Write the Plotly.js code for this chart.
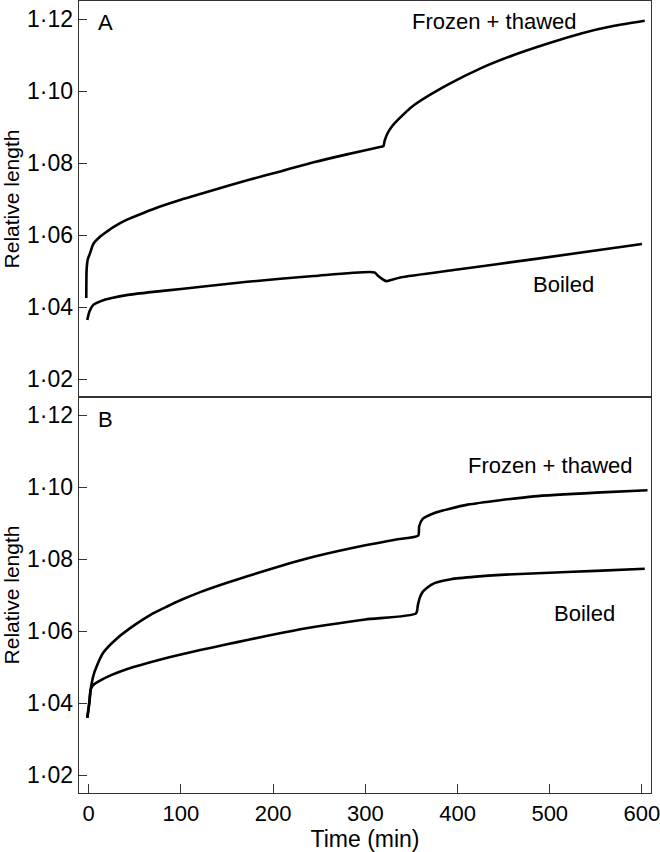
<!DOCTYPE html>
<html>
<head>
<meta charset="utf-8">
<script src="https://cdn.plot.ly/plotly-3.0.1.min.js"></script>
<style>html,body{margin:0;padding:0;background:#fff;}#chart{width:660px;height:852px;}</style>
</head>
<body>
<div id="chart"></div>
<script>
// Panel A
var timeA_frozen = [-2.6, -2.3, -1.5, -0.8, 1.4, 5, 12.3, 20, 26.7, 41, 60, 77.5, 100, 132, 172, 210, 244, 280, 317, 319.6, 321, 324, 329, 335, 353, 389, 425, 461, 498, 534, 570, 603];
var lenA_frozen  = [1.0425, 1.0500, 1.0525, 1.0534, 1.0549, 1.0575, 1.0595, 1.0610, 1.0622, 1.0642, 1.0662, 1.0679, 1.0698, 1.0722, 1.0752, 1.0778, 1.0802, 1.0824, 1.0845, 1.0847, 1.0862, 1.0882, 1.0902, 1.0919, 1.0961, 1.1017, 1.1063, 1.1100, 1.1132, 1.1160, 1.1181, 1.1195];
var timeA_boiled = [-1.5, 0.7, 5, 15.9, 25, 41, 70, 100, 172, 244, 310, 314, 320, 323, 338, 400, 483, 600];
var lenA_boiled  = [1.0364, 1.0387, 1.0406, 1.0419, 1.0425, 1.0433, 1.0442, 1.0450, 1.0470, 1.0486, 1.0496, 1.0486, 1.0475, 1.0472, 1.0482, 1.0504, 1.0533, 1.0575];
// Panel B
var timeB_frozen = [-1.5, 0.7, 2.2, 5, 8.7, 15.9, 30, 50, 67, 85, 100, 121, 150, 172, 210, 244, 300, 335, 357.3, 358.4, 362, 375, 411, 483, 556, 606];
var lenB_frozen  = [1.0359, 1.0401, 1.0438, 1.0475, 1.0502, 1.0540, 1.0578, 1.0617, 1.0645, 1.0668, 1.0686, 1.0708, 1.0734, 1.0752, 1.0782, 1.0806, 1.0838, 1.0855, 1.0865, 1.0891, 1.0911, 1.0928, 1.0951, 1.0974, 1.0985, 1.0991];
var timeB_boiled = [-1.5, 0.7, 2.2, 5, 12.3, 25, 48.5, 75, 100, 121, 150, 172, 210, 244, 300, 355, 357, 359, 362, 367, 375, 393, 420, 447, 500, 550, 603];
var lenB_boiled  = [1.0359, 1.0401, 1.0438, 1.0450, 1.0462, 1.0478, 1.0500, 1.0519, 1.0535, 1.0547, 1.0563, 1.0575, 1.0595, 1.0611, 1.0632, 1.0649, 1.0672, 1.0692, 1.0708, 1.0720, 1.0733, 1.0744, 1.0751, 1.0756, 1.0762, 1.0767, 1.0773];

var yTickVals = [1.02, 1.04, 1.06, 1.08, 1.10, 1.12];
var yTickText = ['1·02', '1·04', '1·06', '1·08', '1·10', '1·12'];
var xTickVals = [0, 100, 200, 300, 400, 500, 600];
var xTickText = ['0', '100', '200', '300', '400', '500', '600'];

var FONT = 'Liberation Sans, Arial, Helvetica, sans-serif';
var lineStyle = {color: '#000', width: 2.6, shape: 'spline', smoothing: 0.6};

var traces = [
  {x: timeA_frozen, y: lenA_frozen, xaxis: 'x2', yaxis: 'y2', mode: 'lines', line: lineStyle, name: 'A Frozen + thawed'},
  {x: timeA_boiled, y: lenA_boiled, xaxis: 'x2', yaxis: 'y2', mode: 'lines', line: lineStyle, name: 'A Boiled'},
  {x: timeB_frozen, y: lenB_frozen, xaxis: 'x', yaxis: 'y', mode: 'lines', line: lineStyle, name: 'B Frozen + thawed'},
  {x: timeB_boiled, y: lenB_boiled, xaxis: 'x', yaxis: 'y', mode: 'lines', line: lineStyle, name: 'B Boiled'}
];

var axisLine = {showline: true, linecolor: '#333', linewidth: 1.3, mirror: true, zeroline: false, showgrid: false};
var yCommon = Object.assign({}, axisLine, {
  range: [1.015, 1.125], tickmode: 'array', tickvals: yTickVals, ticktext: yTickText,
  ticks: 'inside', ticklen: 8, tickwidth: 1, tickcolor: '#333',
  tickfont: {family: FONT, size: 23, color: '#000'},
  title: {text: 'Relative length', font: {family: FONT, size: 21, color: '#000'}, standoff: 2}
});

var layout = {
  width: 660, height: 852,
  margin: {l: 79, r: 9, t: 1, b: 59},
  paper_bgcolor: '#fff', plot_bgcolor: '#fff',
  showlegend: false,
  font: {family: FONT, color: '#000'},
  xaxis: Object.assign({}, axisLine, {
    anchor: 'y', domain: [0, 1], range: [-10.5, 609.8],
    tickmode: 'array', tickvals: xTickVals, ticktext: xTickText,
    ticks: 'inside', ticklen: 9, tickwidth: 1, tickcolor: '#333',
    ticklabeloverflow: 'allow',
    tickfont: {family: FONT, size: 22, color: '#000'},
    title: {text: 'Time (min)', font: {family: FONT, size: 23, color: '#000'}, standoff: 3}
  }),
  xaxis2: Object.assign({}, axisLine, {
    anchor: 'y2', matches: 'x', range: [-10.5, 609.8], showticklabels: false, ticks: ''
  }),
  yaxis: Object.assign({}, yCommon, {anchor: 'x', domain: [0, 0.5]}),
  yaxis2: Object.assign({}, yCommon, {anchor: 'x2', domain: [0.5, 1]}),
  annotations: [
    {xref: 'x2', yref: 'y2', x: 17.7, y: 1.1189, text: 'A', showarrow: false, font: {family: FONT, size: 22, color: '#000'}},
    {xref: 'x2', yref: 'y2', x: 440, y: 1.1192, text: 'Frozen + thawed', showarrow: false, font: {family: FONT, size: 22, color: '#000'}},
    {xref: 'x2', yref: 'y2', x: 514.5, y: 1.0462, text: 'Boiled', showarrow: false, font: {family: FONT, size: 22, color: '#000'}},
    {xref: 'x', yref: 'y', x: 18.1, y: 1.1188, text: 'B', showarrow: false, font: {family: FONT, size: 22, color: '#000'}},
    {xref: 'x', yref: 'y', x: 499.8, y: 1.1059, text: 'Frozen + thawed', showarrow: false, font: {family: FONT, size: 22, color: '#000'}},
    {xref: 'x', yref: 'y', x: 537.3, y: 1.0650, text: 'Boiled', showarrow: false, font: {family: FONT, size: 22, color: '#000'}}
  ]
};

Plotly.newPlot('chart', traces, layout, {staticPlot: true, displayModeBar: false});
</script>
</body>
</html>
